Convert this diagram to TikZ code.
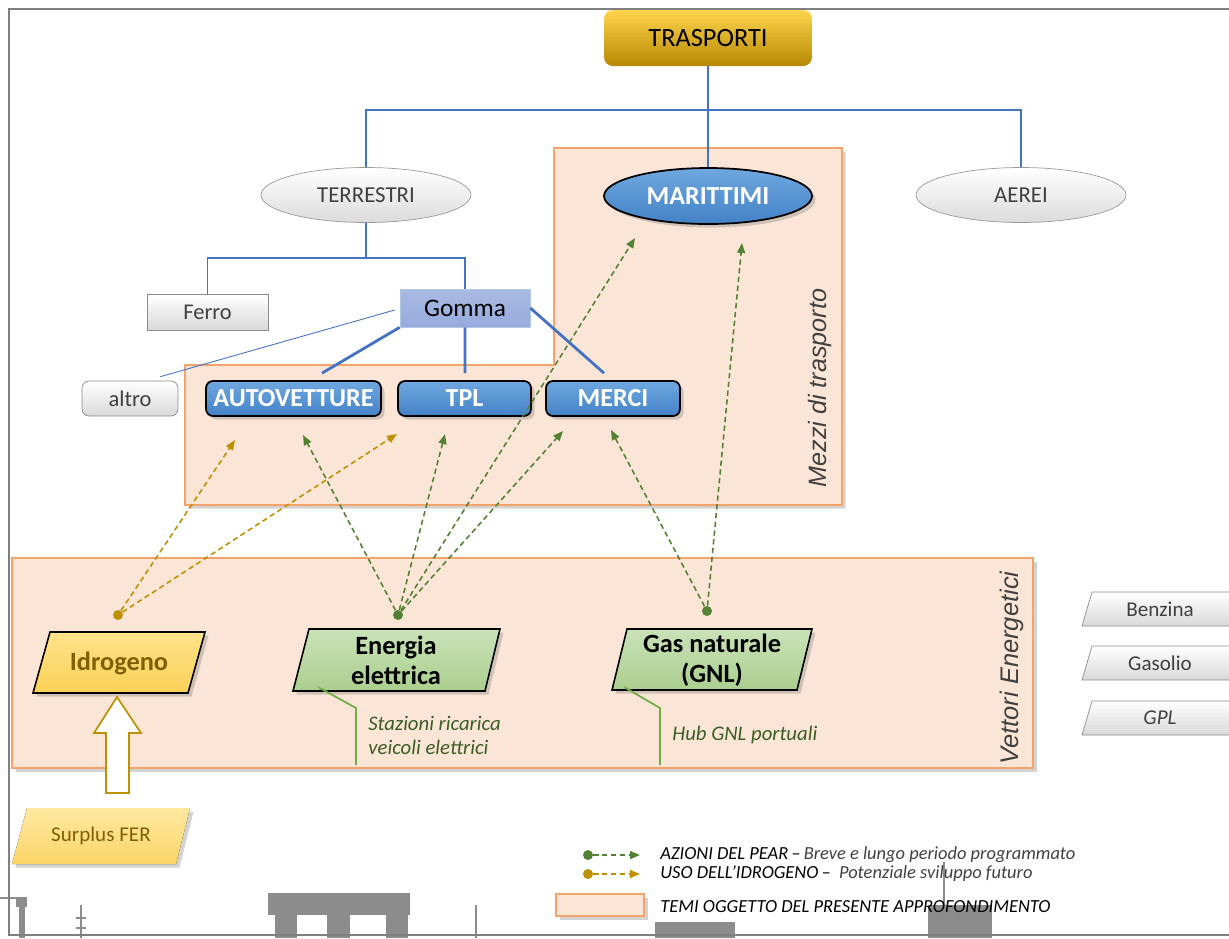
\documentclass[tikz,border=0pt]{standalone}
\usepackage{fontspec}
\setmainfont{Carlito}
\newfontfamily\arialfont{Liberation Sans}
\usetikzlibrary{shapes.geometric,arrows.meta,shadows,calc}

\newcommand\fs[2]{\fontsize{#1}{#2}\selectfont}

\definecolor{tema}{HTML}{FBE5D6}
\definecolor{temaborder}{HTML}{F4A36B}
\definecolor{linkblue}{HTML}{4472C4}
\definecolor{blueTop}{HTML}{70A8DF}
\definecolor{blueBot}{HTML}{4382C7}
\definecolor{pear}{HTML}{548235}
\definecolor{idro}{HTML}{BF9000}
\definecolor{idrotext}{HTML}{7F6000}
\definecolor{callout}{HTML}{70AD47}
\definecolor{callouttext}{HTML}{3A5E25}
\definecolor{bgsil}{HTML}{8C8C8C}
\definecolor{frameg}{HTML}{808080}
\definecolor{goldTop}{HTML}{FFD54F}
\definecolor{goldMid}{HTML}{FFC000}
\definecolor{goldBot}{HTML}{B58800}
\definecolor{greenTop}{HTML}{C9E2B8}
\definecolor{greenBot}{HTML}{AACF8E}
\definecolor{yellowTop}{HTML}{FFE38A}
\definecolor{yellowBot}{HTML}{FAD056}

\tikzset{
  softshadow/.style={drop shadow={shadow xshift=2pt, shadow yshift=-2pt, opacity=0.35}},
  temabox/.style={fill=tema, draw=temaborder, line width=0.6pt, softshadow},
  tree/.style={draw=linkblue, line width=0.8pt},
  treethick/.style={draw=linkblue, line width=1.6pt},
  goldbox/.style={rectangle, rounded corners=5pt, top color=goldTop, middle color=goldMid, bottom color=goldBot, font=\fs{15}{17}, minimum width=4.16cm, minimum height=1.12cm, inner sep=0pt},
  greyell/.style={ellipse, draw=black!40, top color=white, bottom color=black!14, text=black!75, font=\fs{13}{15}, minimum width=4.2cm, minimum height=1.1cm, inner sep=0pt},
  blueell/.style={ellipse, draw=black, line width=1pt, top color=blueTop, bottom color=blueBot, text=white, font=\bfseries\fs{14.8}{17}, minimum width=4.16cm, minimum height=1.12cm, inner sep=0pt, softshadow},
  bluebox/.style={rectangle, rounded corners=4pt, draw=black, line width=1pt, top color=blueTop, bottom color=blueBot, text=white, font=\bfseries\fs{14.8}{17}, minimum height=0.7cm, inner sep=0pt, softshadow},
  greybox/.style={rectangle, draw=black!45, top color=white, bottom color=black!15, text=black!75, font=\fs{12.8}{15}, minimum height=0.7cm, inner sep=0pt},
  vettoreshape/.style={draw=black, line width=0.9pt, softshadow},
  vettoretxt/.style={font=\bfseries\fs{15}{17}, align=center, inner sep=0pt},
  fuelshape/.style={draw=black!45, top color=white, bottom color=black!15},
  fueltxt/.style={text=black!75, font=\fs{12}{14}, inner sep=0pt},
  dotgreen/.style={circle, fill=pear, minimum size=0.2cm, inner sep=0pt},
  dotgold/.style={circle, fill=idro, minimum size=0.2cm, inner sep=0pt},
  pearlink/.style={draw=pear, line width=0.9pt, dash pattern=on 3pt off 2pt, -{Triangle[length=0.2cm, width=0.16cm]}},
  idrolink/.style={draw=idro, line width=0.9pt, dash pattern=on 3pt off 2pt, -{Triangle[length=0.2cm, width=0.16cm]}},
  notelabel/.style={anchor=west, align=left, text=callouttext, font=\itshape\fs{11.8}{13.7}, inner sep=0pt},
  legendtxt/.style={anchor=west, font=\itshape\fs{10.5}{12}, inner sep=0pt},
}

\begin{document}
\begin{tikzpicture}[x=0.02cm, y=-0.02cm]
\path[use as bounding box] (0,0) rectangle (1229,938);
\clip (0,0) rectangle (1229,938);

% background picture, cut off at the bottom
\fill[bgsil] (16,897) rectangle (27,907);
\fill[bgsil] (19,907) rectangle (25,938);
\draw[bgsil, line width=1pt] (0,898) -- (17,898);
\draw[bgsil, line width=1.2pt] (81,905) -- (81,938);
\draw[bgsil, line width=1.2pt] (76,918) -- (86,918) (76,928) -- (86,928);
\fill[bgsil] (268,893) rectangle (410,915);
\fill[bgsil] (275,915) rectangle (297,938);
\fill[bgsil] (327,915) rectangle (350,938);
\fill[bgsil] (386,915) rectangle (408,938);
\draw[bgsil, line width=1pt] (476,905) -- (476,938);
\fill[bgsil] (655,922) rectangle (735,938);
\draw[bgsil, line width=1.2pt] (944,862) -- (944,905);
\fill[bgsil] (928,905) rectangle (992,938);

% frame
\draw[frameg, line width=1.1pt] (1240,9) -- (9,9) -- (9,935) -- (1240,935);

% themed areas
\draw[temabox] (554,148) -- (842,148) -- (842,505) -- (185,505) -- (185,365) -- (554,365) -- cycle;
\draw[temabox] (12,558) rectangle (1033,768);
\node[rotate=90, text=black!75, font=\arialfont\itshape\fs{14.3}{16}] (mezzilbl) at (820,388) {Mezzi di trasporto};
\node[rotate=90, text=black!75, font=\arialfont\itshape\fs{14.5}{16}] (vettorilbl) at (1012,668) {Vettori Energetici};

% tree of transport modes
\node[goldbox] (trasporti) at (708,38) {TRASPORTI};
\node[greyell] (terrestri) at (366,195) {TERRESTRI};
\node[blueell] (marittimi) at (708,196) {MARITTIMI};
\node[greyell] (aerei) at (1021,195) {AEREI};
\coordinate (hub) at (708,110);
\draw[tree] (trasporti) -- (hub);
\draw[tree] (hub) -| (terrestri.north);
\draw[tree] (hub) -- (marittimi.north);
\draw[tree] (hub) -| (aerei.north);

\node[greybox, minimum width=2.42cm, minimum height=0.72cm] (ferro) at (207.5,312) {Ferro};
\node[rectangle, draw={rgb,255:red,180;green,199;blue,231}, top color={rgb,255:red,168;green,187;blue,228}, bottom color={rgb,255:red,150;green,171;blue,220}, font=\fs{14.4}{16}, minimum width=2.6cm, minimum height=0.76cm, inner sep=0pt] (gomma) at (465,308) {Gomma};
\coordinate (thub) at (366,258);
\draw[tree] (terrestri.south) -- (thub);
\draw[tree] (thub) -| (ferro.north);
\draw[tree] (thub) -| (gomma.north);

\node[greybox, rounded corners=4pt, minimum width=1.92cm] (altro) at (130,398.5) {altro};
\node[bluebox, minimum width=3.5cm] (autovetture) at (293.5,398.5) {AUTOVETTURE};
\node[bluebox, minimum width=2.66cm] (tpl) at (464.5,398.5) {TPL};
\node[bluebox, minimum width=2.68cm] (merci) at (613,398.5) {MERCI};
\draw[draw=linkblue, line width=0.5pt] ($(gomma.west)+(-5,2)$) -- ($(altro.north east)+(-18,-4)$);
\draw[treethick] (gomma.south west) -- ($(autovetture.north)+(28.5,-7)$);
\draw[treethick] (gomma.south) -- ($(tpl.north)+(0.5,-7)$);
\draw[treethick] (gomma.east) -- ($(merci.north)+(-9,-7)$);

% energy carriers
\draw[vettoreshape, top color=yellowTop, bottom color=yellowBot] (33,693) -- (188,693) -- (205,632) -- (50,632) -- cycle;
\node[vettoretxt, text=idrotext] (idrogeno) at (119,663) {Idrogeno};
\draw[vettoreshape, top color=greenTop, bottom color=greenBot] (293,691) -- (485,691) -- (500,629) -- (309,629) -- cycle;
\node[vettoretxt] (energia) at (396,660) {Energia\\elettrica};
\draw[vettoreshape, top color=greenTop, bottom color=greenBot] (612,690) -- (797,690) -- (812,629) -- (627,629) -- cycle;
\node[vettoretxt] (gas) at (712,660) {Gas naturale\\(GNL)};

\fill[top color=yellowTop!80!white, bottom color=yellowBot!90!white, softshadow] (12,864) -- (176,864) -- (190,808) -- (27,808) -- cycle;
\node[text=idrotext, font=\fs{12}{14}] (surplus) at (101,836) {Surplus FER};
\draw[idro, line width=1pt, fill=white] (106,793) -- (106,733) -- (94,733) -- (117,697) -- (141,733) -- (129,733) -- (129,793) -- cycle;

\draw[fuelshape] (1082,626) -- (1232,626) -- (1242,592) -- (1092,592) -- cycle;
\node[fueltxt] (benzina) at (1160,609) {Benzina};
\draw[fuelshape] (1082,680) -- (1232,680) -- (1242,646) -- (1092,646) -- cycle;
\node[fueltxt] (gasolio) at (1160,663) {Gasolio};
\draw[fuelshape] (1082,735) -- (1232,735) -- (1242,701) -- (1092,701) -- cycle;
\node[fueltxt, font=\itshape\fs{12}{14}] (gpl) at (1160,718) {GPL};

% notes
\coordinate (ecorner) at (318,687);
\coordinate (gcorner) at (624,687);
\coordinate (enote) at (356,708);
\coordinate (gnote) at (660,708);
\draw[callout, line width=1pt] (ecorner) -- (enote) -- ++(0,57);
\draw[callout, line width=1pt] (gcorner) -- (gnote) -- ++(0,57);
\node[notelabel] (enotetxt) at (368,735) {Stazioni ricarica\\veicoli elettrici};
\node[notelabel] (gnotetxt) at (672,735) {Hub GNL portuali};

% actions
\node[dotgold] (hdot) at (118,615) {};
\node[dotgreen] (edot) at (398,615) {};
\node[dotgreen] (gdot) at (707,611) {};
\coordinate (autoH) at (235,440);
\coordinate (tplH) at (397,434);
\coordinate (autoE) at (303,435);
\coordinate (tplE) at (445,434);
\coordinate (merciE) at (563,431);
\coordinate (maritE) at (635,238);
\coordinate (merciG) at (611,430);
\coordinate (maritG) at (742,243);
\draw[idrolink] (hdot) -- (autoH);
\draw[idrolink] (hdot) -- (tplH);
\foreach \tip in {autoE, tplE, merciE, maritE}
  \draw[pearlink] (edot) -- (\tip);
\foreach \tip in {merciG, maritG}
  \draw[pearlink] (gdot) -- (\tip);

% legend
\node[dotgreen] (legdot1) at (588,855) {};
\node[dotgold] (legdot2) at (588,874) {};
\coordinate (legtip1) at (640,855);
\coordinate (legtip2) at (640,874);
\draw[pearlink] (legdot1) -- (legtip1);
\draw[idrolink] (legdot2) -- (legtip2);
\node[legendtxt] (leg1) at (660,855) {AZIONI DEL PEAR\,–\,\textcolor{black!75}{Breve e lungo periodo programmato}};
\node[legendtxt] (leg2) at (660,874) {USO DELL’IDROGENO\,–\ \ \textcolor{black!75}{Potenziale sviluppo futuro}};
\draw[temabox] (556,894) rectangle (644,916);
\node[legendtxt] (leg3) at (660,907) {TEMI OGGETTO DEL PRESENTE APPROFONDIMENTO};
\end{tikzpicture}
\end{document}
